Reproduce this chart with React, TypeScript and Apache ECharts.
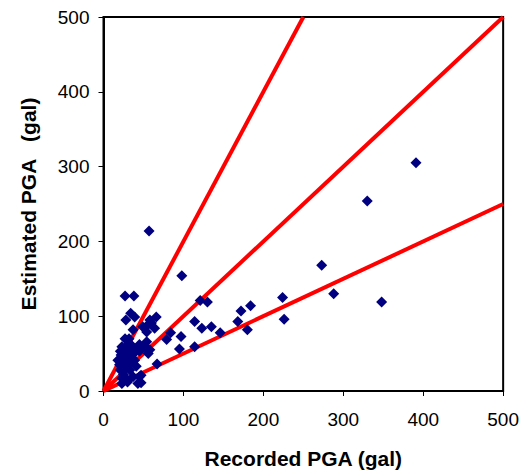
import React, { useEffect, useRef } from "react";
import * as echarts from "echarts";

const xTicks = [0, 100, 200, 300, 400, 500];
const yTicks = [0, 100, 200, 300, 400, 500];

// [Recorded PGA, Estimated PGA]
const observations: [number, number][] = [
  [391, 305], [330, 254], [273, 168], [288, 130], [348, 119], [224, 125], [226, 96],
  [184, 114], [172, 107], [168, 93], [180, 82], [121, 121], [130, 119], [114, 93],
  [123, 84], [135, 86], [146, 78], [98, 154], [57, 214], [97, 73], [84, 78], [79, 69],
  [95, 56], [114, 59], [67, 36],
  [49, 86], [58, 95], [66, 99], [64, 84], [54, 87], [60, 91], [54, 79], [50, 59],
  [56, 50], [47, 21], [47, 11], [43, 10],
  [27, 127], [38, 127], [28, 95], [34, 104], [39, 99], [37, 82], [27, 70], [23, 59],
  [31, 62], [21, 53], [31, 46], [18, 41], [27, 35], [21, 28], [33, 28], [23, 17],
  [23, 10], [37, 19], [45, 19], [41, 33], [39, 41], [45, 62], [52, 59], [58, 55],
  [54, 66], [45, 53], [25, 45], [29, 52], [35, 55], [20, 35], [25, 22], [30, 15],
  [33, 38], [36, 60], [28, 30], [22, 48], [32, 70], [41, 56], [38, 50], [26, 40],
  [30, 12],
];

const upperLine: [number, number][] = [[0, 0], [250, 500]];
const equalLine: [number, number][] = [[0, 0], [500, 500]];
const lowerLine: [number, number][] = [[0, 0], [500, 250]];

const font = "Arial, 'Liberation Sans', sans-serif";

export default function App() {
  const ref = useRef<HTMLDivElement>(null);
  useEffect(() => {
    if (!ref.current) return;
    const chart = echarts.init(ref.current, null, { renderer: "svg" });
    const lineSeries = (data: [number, number][]) => ({
      type: "line",
      data,
      symbol: "none",
      lineStyle: { color: "#FF0000", width: 4 },
      z: 2,
      silent: true,
    });
    chart.setOption({
      animation: false,
      backgroundColor: "#ffffff",
      grid: {
        left: 103.5,
        right: 17,
        top: 17,
        bottom: 83,
        show: true,
        borderColor: "#000",
        borderWidth: 2,
      },
      xAxis: {
        type: "value",
        min: xTicks[0],
        max: xTicks[xTicks.length - 1],
        interval: 100,
        name: "Recorded PGA (gal)",
        nameLocation: "middle",
        nameGap: 57,
        nameTextStyle: { fontFamily: font, fontSize: 21, fontWeight: "bold", color: "#000" },
        axisLine: { lineStyle: { color: "#000", width: 2 } },
        axisTick: { show: true, inside: false, length: 5, lineStyle: { color: "#000", width: 1 } },
        axisLabel: { fontFamily: font, fontSize: 19, color: "#000", margin: 19 },
        splitLine: { show: false },
      },
      yAxis: {
        type: "value",
        min: yTicks[0],
        max: yTicks[yTicks.length - 1],
        interval: 100,
        name: "Estimated PGA   (gal)",
        nameLocation: "middle",
        nameGap: 65,
        nameTextStyle: { fontFamily: font, fontSize: 21, fontWeight: "bold", color: "#000" },
        axisLine: { lineStyle: { color: "#000", width: 2 } },
        axisTick: { show: true, inside: false, length: 5, lineStyle: { color: "#000", width: 1 } },
        axisLabel: { fontFamily: font, fontSize: 19, color: "#000", margin: 14 },
        splitLine: { show: false },
      },
      series: [
        lineSeries(upperLine),
        lineSeries(equalLine),
        lineSeries(lowerLine),
        {
          type: "scatter",
          data: observations,
          symbol: "diamond",
          symbolSize: 11,
          itemStyle: { color: "#000080", opacity: 1 },
          z: 3,
        },
      ],
    });
    return () => chart.dispose();
  }, []);
  return <div ref={ref} style={{ width: 522, height: 474, position: "absolute", left: 0, top: 0 }} />;
}
